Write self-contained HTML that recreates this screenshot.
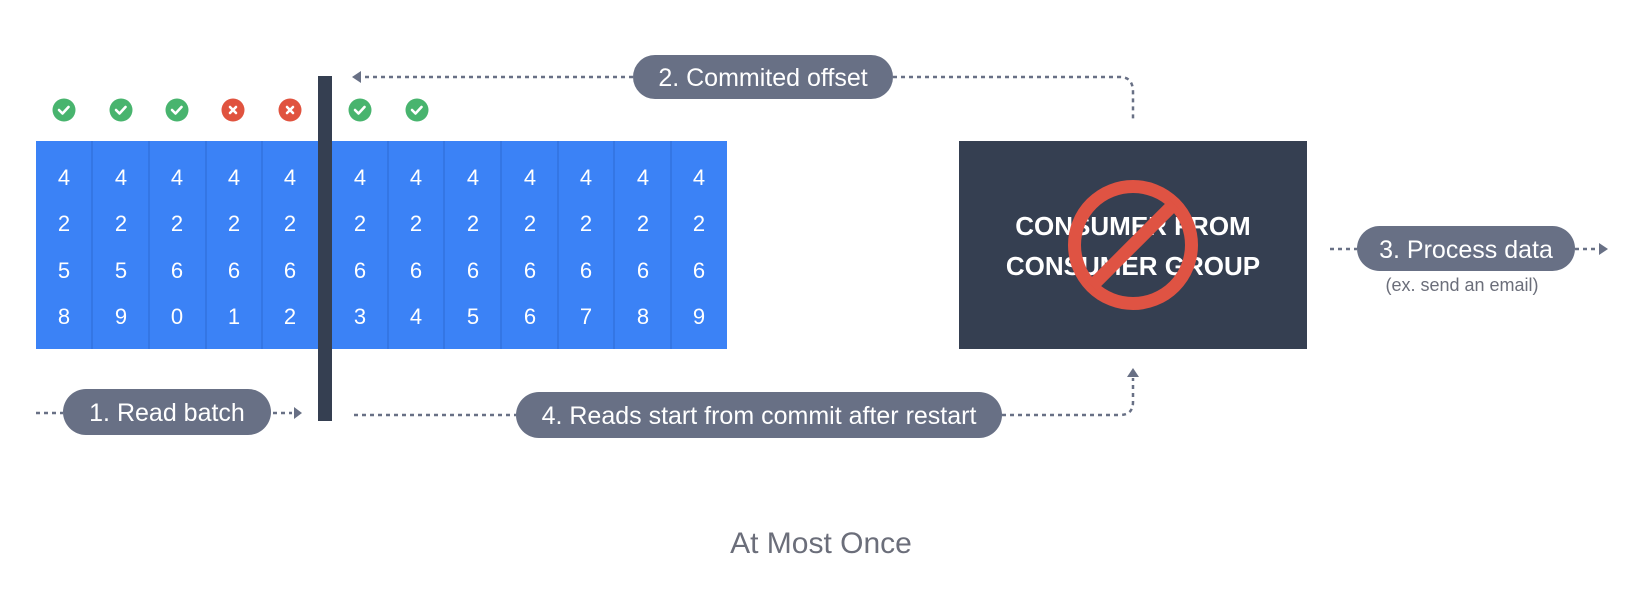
<!DOCTYPE html>
<html><head><meta charset="utf-8"><style>
html,body{margin:0;padding:0;background:#fff;}
svg{display:block;}
text{font-family:"Liberation Sans",sans-serif;}
.d{font-family:"DejaVu Sans Mono","Liberation Mono",monospace;font-size:22px;fill:#fff;text-anchor:middle;}
.p{font-size:25px;fill:#fff;text-anchor:middle;}
.l{stroke:#687085;stroke-width:2.5;stroke-dasharray:4 4;fill:none;}
</style></head><body>
<svg width="1650" height="600" viewBox="0 0 1650 600" xmlns="http://www.w3.org/2000/svg">
<rect x="36" y="141" width="691" height="208" fill="#3b82f6"/>
<g stroke="#2f6fd8" stroke-width="1.2">
<line x1="92" y1="141" x2="92" y2="349"/><line x1="149" y1="141" x2="149" y2="349"/>
<line x1="206" y1="141" x2="206" y2="349"/><line x1="262" y1="141" x2="262" y2="349"/>
<line x1="388" y1="141" x2="388" y2="349"/><line x1="444" y1="141" x2="444" y2="349"/>
<line x1="501" y1="141" x2="501" y2="349"/><line x1="558" y1="141" x2="558" y2="349"/>
<line x1="614" y1="141" x2="614" y2="349"/><line x1="671" y1="141" x2="671" y2="349"/>
</g>
<g class="d">
<g transform="translate(64,0)"><text y="185">4</text><text y="231">2</text><text y="278">5</text><text y="324">8</text></g>
<g transform="translate(121,0)"><text y="185">4</text><text y="231">2</text><text y="278">5</text><text y="324">9</text></g>
<g transform="translate(177,0)"><text y="185">4</text><text y="231">2</text><text y="278">6</text><text y="324">0</text></g>
<g transform="translate(234,0)"><text y="185">4</text><text y="231">2</text><text y="278">6</text><text y="324">1</text></g>
<g transform="translate(290,0)"><text y="185">4</text><text y="231">2</text><text y="278">6</text><text y="324">2</text></g>
<g transform="translate(360,0)"><text y="185">4</text><text y="231">2</text><text y="278">6</text><text y="324">3</text></g>
<g transform="translate(416,0)"><text y="185">4</text><text y="231">2</text><text y="278">6</text><text y="324">4</text></g>
<g transform="translate(473,0)"><text y="185">4</text><text y="231">2</text><text y="278">6</text><text y="324">5</text></g>
<g transform="translate(530,0)"><text y="185">4</text><text y="231">2</text><text y="278">6</text><text y="324">6</text></g>
<g transform="translate(586,0)"><text y="185">4</text><text y="231">2</text><text y="278">6</text><text y="324">7</text></g>
<g transform="translate(643,0)"><text y="185">4</text><text y="231">2</text><text y="278">6</text><text y="324">8</text></g>
<g transform="translate(699,0)"><text y="185">4</text><text y="231">2</text><text y="278">6</text><text y="324">9</text></g>
</g>
<rect x="318" y="76" width="14" height="345" fill="#353f51"/>
<g>
<circle cx="64" cy="110" r="11.5" fill="#48b46e"/><circle cx="121" cy="110" r="11.5" fill="#48b46e"/>
<circle cx="177" cy="110" r="11.5" fill="#48b46e"/><circle cx="233" cy="110" r="11.5" fill="#e0533f"/>
<circle cx="290" cy="110" r="11.5" fill="#e0533f"/><circle cx="360" cy="110" r="11.5" fill="#48b46e"/>
<circle cx="417" cy="110" r="11.5" fill="#48b46e"/>
<g stroke="#fff" stroke-width="2.6" fill="none" stroke-linecap="round" stroke-linejoin="round">
<path d="M59 110l3.5 3.5 6-6.5"/><path d="M116 110l3.5 3.5 6-6.5"/><path d="M172 110l3.5 3.5 6-6.5"/>
<path d="M355 110l3.5 3.5 6-6.5"/><path d="M412 110l3.5 3.5 6-6.5"/>
<path d="M230 107l6 6M236 107l-6 6"/><path d="M287 107l6 6M293 107l-6 6"/>
</g></g>
<rect x="959" y="141" width="348" height="208" fill="#353f51"/>
<text x="1133" y="235" font-size="26" font-weight="bold" fill="#fff" text-anchor="middle">CONSUMER FROM</text>
<text x="1133" y="275" font-size="26" font-weight="bold" fill="#fff" text-anchor="middle">CONSUMER GROUP</text>
<circle cx="1133" cy="245" r="58.5" stroke="#df5343" stroke-width="13" fill="none"/>
<line x1="1174" y1="204" x2="1092" y2="286" stroke="#df5343" stroke-width="13"/>
<path class="l" d="M893 77H1120Q1133 77 1133 92V122"/>
<path class="l" d="M633 77H362"/>
<path d="M352 77l9-6v12z" fill="#687085"/>
<path class="l" d="M36 413H63"/>
<path class="l" d="M273 413H292"/>
<path d="M302 413l-8-6v12z" fill="#687085"/>
<path class="l" d="M354 415H516"/>
<path class="l" d="M1002 415H1120Q1133 415 1133 402V378"/>
<path d="M1133 368l-6 9h12z" fill="#687085"/>
<path class="l" d="M1330 249H1357"/>
<path class="l" d="M1575 249H1598"/>
<path d="M1608 249l-9-6v12z" fill="#687085"/>
<rect x="633" y="55" width="260" height="44" rx="22" fill="#687085"/>
<text class="p" x="763" y="86">2. Commited offset</text>
<rect x="63" y="389" width="208" height="46" rx="23" fill="#687085"/>
<text class="p" x="167" y="421">1. Read batch</text>
<rect x="516" y="392" width="486" height="46" rx="23" fill="#687085"/>
<text class="p" x="759" y="424">4. Reads start from commit after restart</text>
<rect x="1357" y="226" width="218" height="45" rx="22.5" fill="#687085"/>
<text class="p" x="1466" y="258">3. Process data</text>
<text x="1462" y="291" font-size="18" fill="#6b6e7a" text-anchor="middle">(ex. send an email)</text>
<text x="821" y="553" font-size="30" fill="#6b6e7a" text-anchor="middle">At Most Once</text>
</svg>
</body></html>
